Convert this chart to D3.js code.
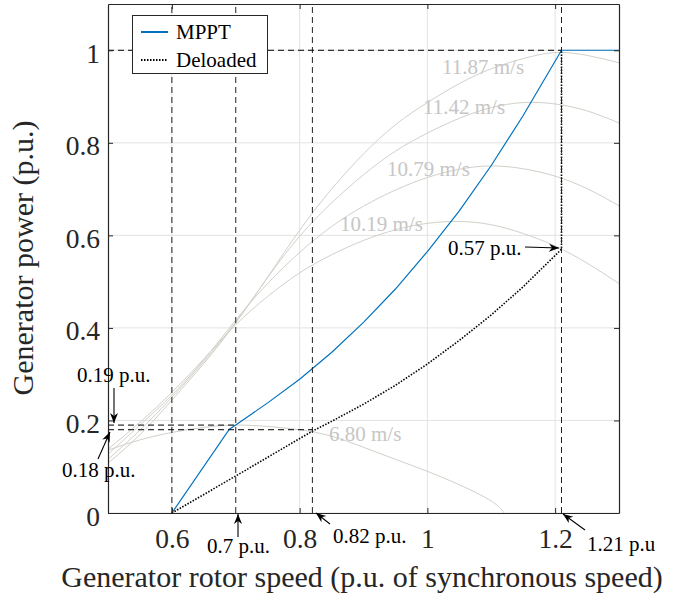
<!DOCTYPE html>
<html>
<head>
<meta charset="utf-8">
<script src="https://cdn.jsdelivr.net/npm/d3@7"></script>
<style>
  body { margin: 0; background: #fff; }
  svg { display: block; font-family: "Liberation Serif", "Times New Roman", serif; }
</style>
</head>
<body>
<div id="chart"></div>
<script>
// wind turbine power curves (p.u.) sampled along rotor speed
const speeds = [0.50, 0.55, 0.60, 0.65, 0.70, 0.75, 0.80, 0.85, 0.90, 0.95, 1.00, 1.05, 1.10, 1.15, 1.20, 1.25, 1.30];
const power1187 = [0.108, 0.169, 0.244, 0.323, 0.411, 0.510, 0.611, 0.700, 0.776, 0.839, 0.887, 0.928, 0.960, 0.982, 0.995, 0.989, 0.973];
const power1142 = [0.116, 0.179, 0.250, 0.327, 0.413, 0.509, 0.598, 0.670, 0.731, 0.782, 0.821, 0.853, 0.876, 0.887, 0.884, 0.869, 0.843];
const power1079 = [0.127, 0.190, 0.255, 0.331, 0.417, 0.496, 0.563, 0.619, 0.663, 0.698, 0.725, 0.743, 0.750, 0.744, 0.728, 0.701, 0.664];
const power1019 = [0.138, 0.196, 0.261, 0.333, 0.407, 0.468, 0.519, 0.558, 0.589, 0.612, 0.626, 0.630, 0.623, 0.604, 0.577, 0.540, 0.496];
const speeds680 = [0.50, 0.55, 0.60, 0.65, 0.70, 0.75, 0.80, 0.85, 0.90, 0.95, 1.00, 1.05, 1.10, 1.12];
const power680 = [0.136, 0.158, 0.174, 0.185, 0.190, 0.187, 0.180, 0.166, 0.142, 0.116, 0.090, 0.061, 0.026, 0.000];
const windLabels = ["11.87 m/s", "11.42 m/s", "10.79 m/s", "10.19 m/s", "6.80 m/s"];

// control curves
const mpptSpeed = [0.60, 0.69, 0.70, 0.75, 0.80, 0.85, 0.90, 0.95, 1.00, 1.05, 1.10, 1.15, 1.21, 1.30];
const mpptPower = [0.000, 0.181, 0.190, 0.238, 0.289, 0.347, 0.412, 0.484, 0.565, 0.653, 0.751, 0.859, 1.000, 1.000];
const deloadSpeed = [0.60, 0.70, 0.82, 0.85, 0.90, 0.95, 1.00, 1.05, 1.10, 1.15, 1.21, 1.21];
const deloadPower = [0.000, 0.080, 0.177, 0.198, 0.235, 0.276, 0.322, 0.373, 0.428, 0.489, 0.570, 1.000];

// reference lines
const refSpeeds = [0.6, 0.7, 0.82, 1.21];
const refPowers = [1, 0.19, 0.18];
const refPowerEnds = [1.21, 0.7, 0.82];

const xTicks = [0.6, 0.8, 1, 1.2];
const yTicks = [0, 0.2, 0.4, 0.6, 0.8, 1];
const legendNames = ["MPPT", "Deloaded"];

const W = 678, H = 599;
const margin = {top: 4, right: 59, bottom: 86, left: 108};
const width = W - margin.left - margin.right;
const height = H - margin.top - margin.bottom;

const svg = d3.select("#chart").append("svg")
    .attr("width", W)
    .attr("height", H);

const defs = svg.append("defs");
defs.append("clipPath").attr("id", "plotclip")
    .append("rect").attr("width", width).attr("height", height);
defs.append("marker")
    .attr("id", "arrow")
    .attr("viewBox", "0 -5 10 10")
    .attr("refX", 10).attr("refY", 0)
    .attr("markerWidth", 10).attr("markerHeight", 10)
    .attr("markerUnits", "userSpaceOnUse")
    .attr("orient", "auto")
    .append("path")
    .attr("d", "M0,-4L10,0L0,4L3,0Z")
    .attr("fill", "#000");

const g = svg.append("g").attr("transform", `translate(${margin.left},${margin.top})`);

const x = d3.scaleLinear().domain([0.5, 1.3]).range([0, width]);
const y = d3.scaleLinear().domain([0, 1.1]).range([height, 0]);

// grid
g.append("g").selectAll("line").data(xTicks).enter().append("line")
    .attr("x1", d => x(d)).attr("x2", d => x(d))
    .attr("y1", 0).attr("y2", height)
    .attr("stroke", "#e3e3e3");
g.append("g").selectAll("line").data(yTicks).enter().append("line")
    .attr("x1", 0).attr("x2", width)
    .attr("y1", d => y(d)).attr("y2", d => y(d))
    .attr("stroke", "#e3e3e3");

const plot = g.append("g").attr("clip-path", "url(#plotclip)");

// wind curves
const windSeries = [
    {label: windLabels[0], sp: speeds, pw: power1187},
    {label: windLabels[1], sp: speeds, pw: power1142},
    {label: windLabels[2], sp: speeds, pw: power1079},
    {label: windLabels[3], sp: speeds, pw: power1019},
    {label: windLabels[4], sp: speeds680, pw: power680}
];
const windLine = d3.line().curve(d3.curveNatural).x(d => x(d[0])).y(d => y(d[1]));
plot.selectAll(".wind").data(windSeries).enter().append("path")
    .attr("class", "wind")
    .attr("d", s => windLine(s.sp.map((v, i) => [v, s.pw[i]])))
    .attr("fill", "none")
    .attr("stroke", "#d3d0ca")
    .attr("stroke-width", 1);

// wind speed labels (pixel anchors)
const windLabelPos = [[442, 74], [423, 114], [387, 176], [340, 231], [329, 441]];
g.selectAll(".wlab").data(windSeries).enter().append("text")
    .attr("x", (d, i) => windLabelPos[i][0] - margin.left)
    .attr("y", (d, i) => windLabelPos[i][1] - margin.top)
    .attr("font-size", "21px")
    .attr("fill", "#c6c6c6")
    .text(d => d.label);

// dashed reference lines
g.append("g").selectAll("line").data(refSpeeds).enter().append("line")
    .attr("x1", d => x(d)).attr("x2", d => x(d))
    .attr("y1", y(0)).attr("y2", y(1.1))
    .attr("stroke", "#222").attr("stroke-width", 1)
    .attr("stroke-dasharray", "6,4");
g.append("g").selectAll("line").data(refPowers).enter().append("line")
    .attr("x1", x(0.5)).attr("x2", (d, i) => x(refPowerEnds[i]))
    .attr("y1", d => y(d)).attr("y2", d => y(d))
    .attr("stroke", "#000").attr("stroke-width", 1)
    .attr("stroke-dasharray", "6,4");

// MPPT and deloaded curves
const ctrlLine = d3.line().x(d => x(d[0])).y(d => y(d[1]));
plot.append("path")
    .attr("d", ctrlLine(mpptSpeed.map((v, i) => [v, mpptPower[i]])))
    .attr("fill", "none")
    .attr("stroke", "#0072BD")
    .attr("stroke-width", 1.2);
plot.append("path")
    .attr("d", ctrlLine(deloadSpeed.map((v, i) => [v, deloadPower[i]])))
    .attr("fill", "none")
    .attr("stroke", "#000")
    .attr("stroke-width", 1.6)
    .attr("stroke-dasharray", "1.5,1.5");

// axes (matlab style box, ticks inside)
function styleAxis(sel) {
    sel.select(".domain").attr("stroke", "#262626").attr("stroke-width", 1.2);
    sel.selectAll(".tick line").attr("stroke", "#262626");
}
const axB = g.append("g").attr("transform", `translate(0,${height})`)
    .call(d3.axisBottom(x).tickValues(xTicks).tickSize(-5).tickSizeOuter(0).tickFormat(d3.format("")));
axB.call(styleAxis);
axB.selectAll("text")
    .attr("y", 35).attr("dy", null)
    .attr("font-size", "27.5px").attr("fill", "#262626")
    .attr("font-family", "Liberation Serif, serif");
const axL = g.append("g")
    .call(d3.axisLeft(y).tickValues(yTicks).tickSize(-5).tickSizeOuter(0).tickFormat(d3.format("")));
axL.call(styleAxis);
axL.selectAll("text")
    .attr("x", -8).attr("dy", "12px")
    .attr("font-size", "27.5px").attr("fill", "#262626")
    .attr("font-family", "Liberation Serif, serif");
g.append("g")
    .call(d3.axisTop(x).tickValues(xTicks).tickSize(-5).tickSizeOuter(0).tickFormat(""))
    .call(styleAxis);
g.append("g").attr("transform", `translate(${width},0)`)
    .call(d3.axisRight(y).tickValues(yTicks).tickSize(-5).tickSizeOuter(0).tickFormat(""))
    .call(styleAxis);

// axis titles
svg.append("text")
    .attr("x", 362).attr("y", 587)
    .attr("text-anchor", "middle")
    .attr("font-size", "30px").attr("fill", "#262626")
    .text("Generator rotor speed (p.u. of synchronous speed)");
svg.append("text")
    .attr("transform", "translate(33,258) rotate(-90)")
    .attr("text-anchor", "middle")
    .attr("font-size", "30px").attr("fill", "#262626")
    .text("Generator power (p.u.)");

// annotations: [label, text x, text y, arrow tail x, tail y, tip x, tip y] in pixels
const notes = [
    ["0.19 p.u.", 77, 382, 114, 388, 114, 423],
    ["0.18 p.u.", 62, 477, 98, 459, 110, 432],
    ["0.7 p.u.", 207, 553, 238, 537, 238, 514],
    ["0.82 p.u.", 333, 543, 330, 524, 316, 513],
    ["1.21 p.u", 587, 551, 585, 530, 563, 514],
    ["0.57 p.u.", 448, 255, 525, 247, 559, 248]
];
const ann = svg.append("g");
ann.selectAll("line").data(notes).enter().append("line")
    .attr("x1", d => d[3]).attr("y1", d => d[4])
    .attr("x2", d => d[5]).attr("y2", d => d[6])
    .attr("stroke", "#000").attr("stroke-width", 1.1)
    .attr("marker-end", "url(#arrow)");
ann.selectAll("text").data(notes).enter().append("text")
    .attr("x", d => d[1]).attr("y", d => d[2])
    .attr("font-size", "21px").attr("fill", "#000")
    .text(d => d[0]);

// legend
const lg = svg.append("g");
lg.append("rect")
    .attr("x", 132.5).attr("y", 15.5).attr("width", 135).attr("height", 58)
    .attr("fill", "#fff").attr("stroke", "#262626").attr("stroke-width", 1);
const legendStyles = [{c: "#0072BD", w: 2, dash: null}, {c: "#000", w: 2, dash: "1.5,1.5"}];
legendNames.forEach((name, i) => {
    const ly = 32 + i * 28;
    lg.append("line")
        .attr("x1", 141).attr("x2", 168).attr("y1", ly).attr("y2", ly)
        .attr("stroke", legendStyles[i].c).attr("stroke-width", legendStyles[i].w)
        .attr("stroke-dasharray", legendStyles[i].dash);
    lg.append("text")
        .attr("x", 176).attr("y", ly + 7)
        .attr("font-size", "21px").attr("fill", "#000")
        .text(name);
});
</script>
</body>
</html>
